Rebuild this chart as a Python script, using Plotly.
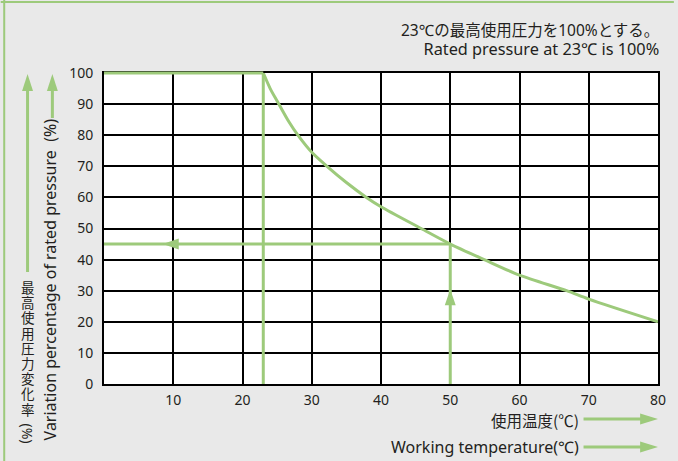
import plotly.graph_objects as go

# ---------------- data ----------------
temp_c = [0, 23, 24, 25, 26.7, 28, 30, 32.2, 35, 37.9, 40, 45.8, 50, 54.9, 60, 66.8, 70, 80]
pressure_pct = [100, 100, 95, 91, 84.3, 80, 74.5, 70, 64.8, 60, 57, 50, 45, 40, 35, 30, 27.3, 20]
x_ticks = [10, 20, 30, 40, 50, 60, 70, 80]
y_ticks = [0, 10, 20, 30, 40, 50, 60, 70, 80, 90, 100]
rated_temp = 23          # reference temperature (100 %)
example_temp = 50        # example reading
example_pct = 45
left_arrow_tip_temp = 8.5   # arrowhead on the 45 % guide line
up_arrow_tip_pct = 30.5     # arrowhead on the 50 ℃ guide line

note_jp = "23℃の最高使用圧力を100%とする。"
note_en = "Rated pressure at 23℃ is 100%"
xtitle_jp = "使用温度(℃)"
xtitle_en = "Working temperature(℃)"
ytitle_en = "Variation percentage of rated pressure  (%)"
ytitle_jp = "最高使用圧力変化率"
ytitle_jp_unit = "(%)"

# ---------------- styling ----------------
W, H = 678, 461
L, R, T, B = 104, 16, 73, 77
PW, PH = W - L - R, H - T - B
GREEN = "#9dca7b"
BG = "#e9e9e9"
TXT = "#231f20"
FONT = "Noto Sans, Noto Sans CJK JP, sans-serif"
JFONT = "Noto Sans CJK JP, Noto Sans, sans-serif"
XMAX, YMAX = 80, 100


def px(xp):
    return (xp - L) / PW


def py(yp):
    return (H - B - yp) / PH


fig = go.Figure()

# derating curve
fig.add_trace(go.Scatter(x=temp_c[1:], y=pressure_pct[1:], mode="lines",
                         line=dict(color=GREEN, width=3, shape="spline", smoothing=0.8),
                         hoverinfo="skip", showlegend=False))
# guide lines
fig.add_trace(go.Scatter(x=[rated_temp, rated_temp], y=[0, pressure_pct[1]], mode="lines",
                         line=dict(color=GREEN, width=3), hoverinfo="skip", showlegend=False))
fig.add_trace(go.Scatter(x=[0, example_temp], y=[example_pct, example_pct], mode="lines",
                         line=dict(color=GREEN, width=3), hoverinfo="skip", showlegend=False))
fig.add_trace(go.Scatter(x=[example_temp, example_temp], y=[0, example_pct], mode="lines",
                         line=dict(color=GREEN, width=3), hoverinfo="skip", showlegend=False))

shapes = []
# flat 100 % segment on the top edge (not clipped vertically)
shapes.append(dict(type="line", xref="x", yref="paper", x0=temp_c[0], x1=temp_c[1], y0=1, y1=1,
                   line=dict(color=GREEN, width=3), layer="above"))

# in-plot arrowheads (data coords, sized in pixels)
ux = XMAX / PW   # data units per pixel (x)
uy = YMAX / PH   # data units per pixel (y)
hl, hw = 16, 5.5
tx, ty = left_arrow_tip_temp, example_pct
shapes.append(dict(type="path", xref="x", yref="y",
                   path=f"M {tx},{ty} L {tx + hl*ux},{ty + hw*uy} L {tx + hl*ux},{ty - hw*uy} Z",
                   fillcolor=GREEN, line=dict(width=0)))
tx, ty = example_temp, up_arrow_tip_pct
shapes.append(dict(type="path", xref="x", yref="y",
                   path=f"M {tx},{ty} L {tx - hw*ux},{ty - hl*uy} L {tx + hw*ux},{ty - hl*uy} Z",
                   fillcolor=GREEN, line=dict(width=0)))


def arrow_right(x_tail, x_tip, yp, hl=18, hw=5.5):
    out = [dict(type="line", xref="paper", yref="paper", x0=px(x_tail), x1=px(x_tip - hl + 1),
                y0=py(yp), y1=py(yp), line=dict(color=GREEN, width=3))]
    out.append(dict(type="path", xref="paper", yref="paper",
                    path=f"M {px(x_tip)},{py(yp)} L {px(x_tip-hl)},{py(yp-hw)} L {px(x_tip-hl)},{py(yp+hw)} Z",
                    fillcolor=GREEN, line=dict(width=0)))
    return out


def arrow_up(xp, y_tail, y_tip, hl=17, hw=5.5):
    out = [dict(type="line", xref="paper", yref="paper", x0=px(xp), x1=px(xp),
                y0=py(y_tail), y1=py(y_tip + hl - 1), line=dict(color=GREEN, width=3))]
    out.append(dict(type="path", xref="paper", yref="paper",
                    path=f"M {px(xp)},{py(y_tip)} L {px(xp-hw)},{py(y_tip+hl)} L {px(xp+hw)},{py(y_tip+hl)} Z",
                    fillcolor=GREEN, line=dict(width=0)))
    return out


shapes += arrow_right(587, 662, 419)
shapes += arrow_right(587, 662, 447)
shapes += arrow_up(27, 272, 74)
shapes += arrow_up(52, 118, 74)

# outer green frame (left and top edges)
shapes.append(dict(type="line", xref="paper", yref="paper", x0=px(3.5), x1=px(3.5),
                   y0=py(0), y1=py(H), line=dict(color=GREEN, width=2)))
shapes.append(dict(type="line", xref="paper", yref="paper", x0=px(0), x1=px(W),
                   y0=py(2), y1=py(2), line=dict(color=GREEN, width=2)))

ann = []
# two-line note, top right
ann.append(dict(x=px(665), y=py(39.5), xref="paper", yref="paper",
                text=(f"<span style='font-size:15.5px'>{note_jp}</span><br>"
                      f"<span style='font-size:16.3px'>{note_en}</span>"),
                showarrow=False, align="right", xanchor="right", yanchor="middle",
                font=dict(family=FONT, size=14.6, color=TXT)))
ann.append(dict(x=px(584), y=py(420), xref="paper", yref="paper", text=xtitle_jp, showarrow=False,
                xanchor="right", yanchor="middle", font=dict(family=JFONT, size=15.5, color=TXT)))
ann.append(dict(x=px(584), y=py(447), xref="paper", yref="paper", text=xtitle_en, showarrow=False,
                xanchor="right", yanchor="middle", font=dict(family=FONT, size=16, color=TXT)))
ann.append(dict(x=px(50), y=py(279), xref="paper", yref="paper", text=ytitle_en, showarrow=False,
                textangle=-90, xanchor="center", yanchor="middle",
                font=dict(family=FONT, size=16, color=TXT)))
# vertical (tategaki) Japanese axis title: one upright character per step
for i, ch in enumerate(ytitle_jp):
    ann.append(dict(x=px(27), y=py(287 + 15.2 * i), xref="paper", yref="paper", text=ch,
                    showarrow=False, xanchor="center", yanchor="middle",
                    font=dict(family=JFONT, size=13.5, color=TXT)))
ann.append(dict(x=px(27), y=py(433), xref="paper", yref="paper", text=ytitle_jp_unit,
                showarrow=False, textangle=90, xanchor="center", yanchor="middle",
                font=dict(family=FONT, size=14, color=TXT)))

axis_common = dict(showgrid=True, gridcolor="black", gridwidth=1.5, zeroline=False,
                   showline=True, linecolor="black", linewidth=2, mirror=True,
                   ticks="", tickfont=dict(family=FONT, size=14, color=TXT),
                   layer="below traces", fixedrange=True)

fig.update_layout(
    width=W, height=H,
    margin=dict(l=L, r=R, t=T, b=B),
    paper_bgcolor=BG, plot_bgcolor="white",
    xaxis=dict(range=[0, XMAX], tickvals=x_ticks, ticklabelstandoff=2, **axis_common),
    yaxis=dict(range=[0, YMAX], tickvals=y_ticks, ticklabelstandoff=6, **axis_common),
    shapes=shapes, annotations=ann, showlegend=False,
)

fig.write_html("out.html", config={"displayModeBar": False},
               post_script="document.body.style.margin='0';document.body.style.padding='0';")
